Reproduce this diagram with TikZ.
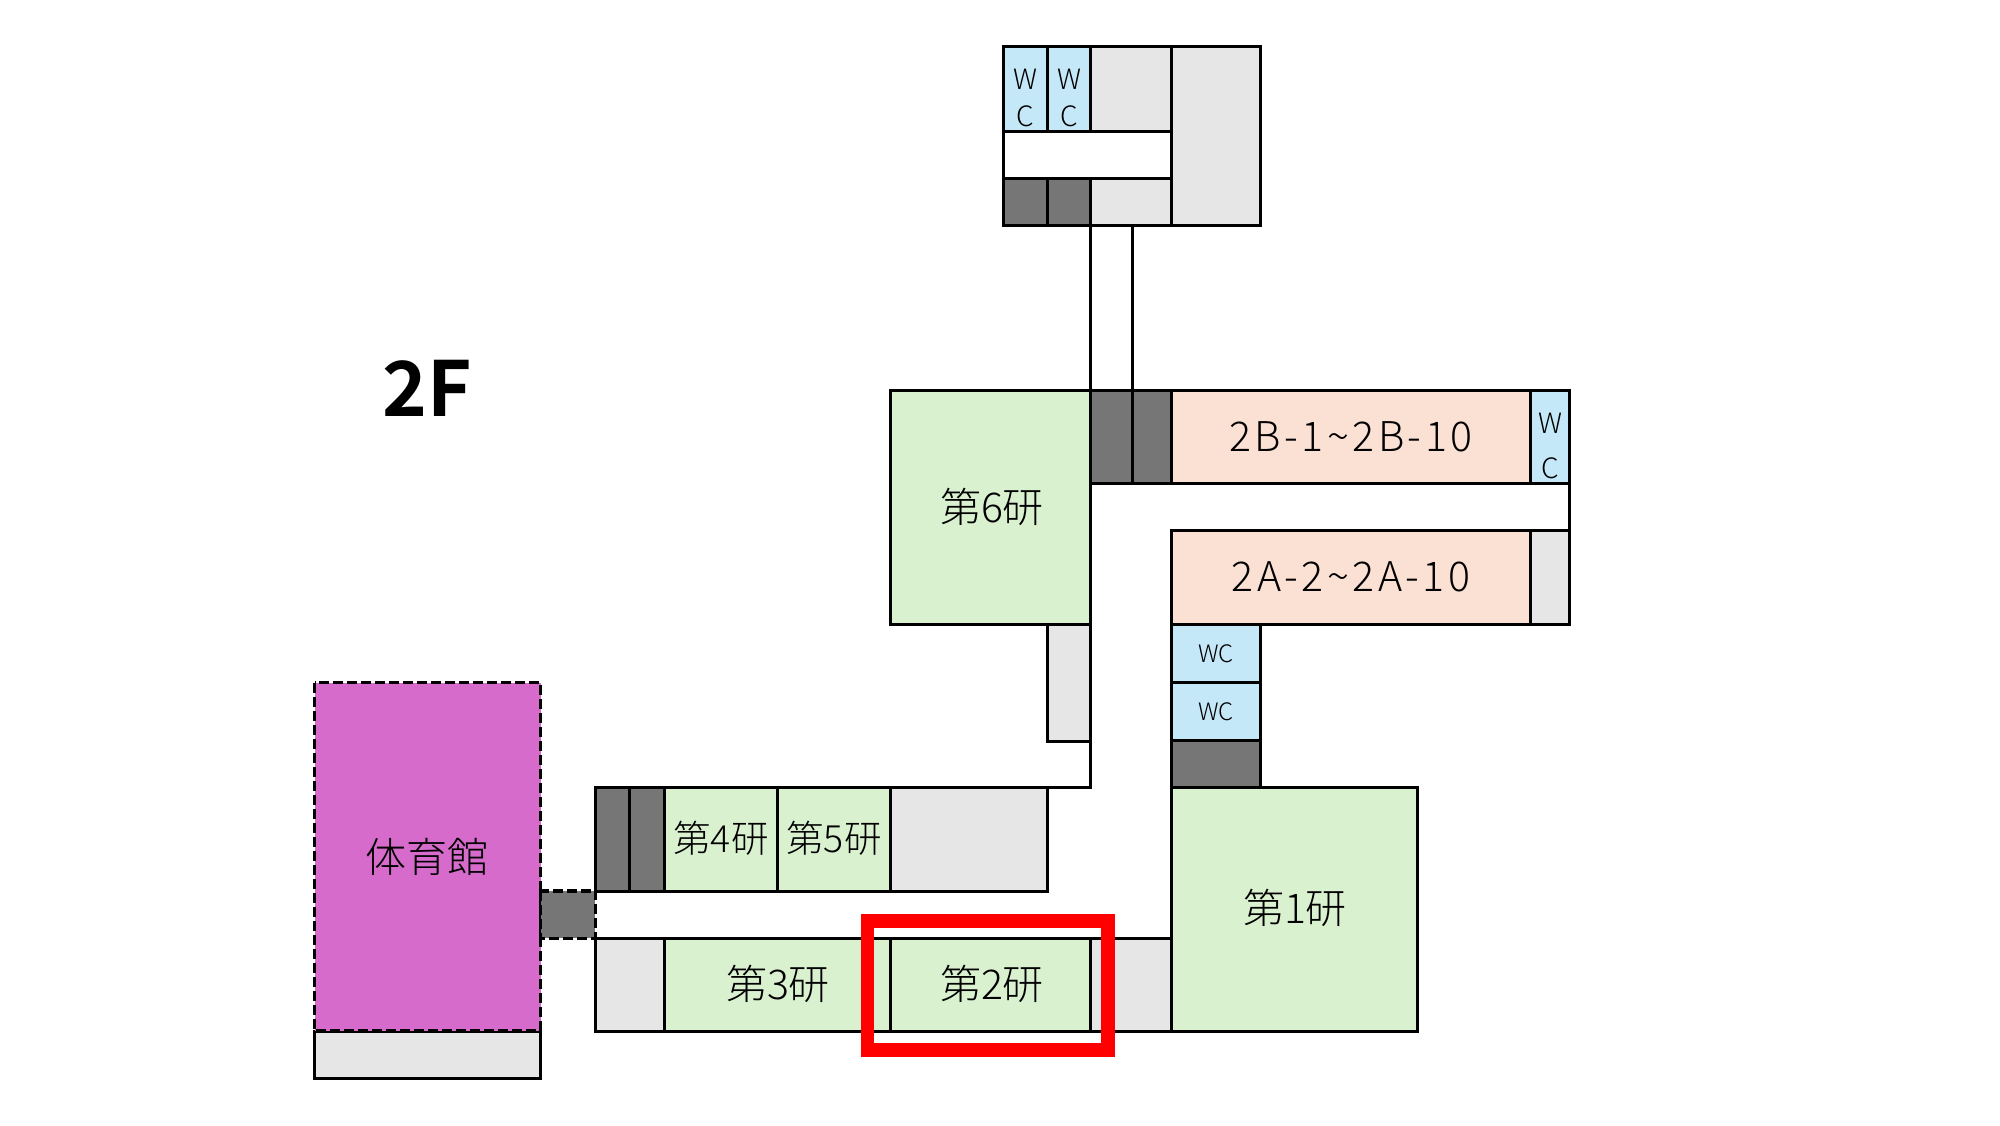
\documentclass[tikz,border=0pt]{standalone}
\usepackage{fontspec}
\setmainfont{Noto Sans CJK JP}[UprightFont=* Light,BoldFont=* Bold]
\definecolor{labgreen}{HTML}{DAF1D0}
\definecolor{peach}{HTML}{FBE0D4}
\definecolor{wcblue}{HTML}{C5E8F8}
\definecolor{lightgrey}{HTML}{E6E6E6}
\definecolor{stair}{HTML}{767676}
\definecolor{gym}{HTML}{D66BCB}
\tikzset{
  wall/.style={draw=black,line width=3pt,line join=miter},
  lab/.style={wall,fill=labgreen},
  cls/.style={wall,fill=peach},
  wc/.style={wall,fill=wcblue},
  store/.style={wall,fill=lightgrey},
  stairs/.style={wall,fill=stair},
  gymroom/.style={wall,line width=3.4pt,fill=gym,dash pattern=on 10pt off 4pt},
  big/.style={font=\fontsize{41}{41}\selectfont,inner sep=0pt,text=black},
  mid/.style={font=\fontsize{37.5}{37.5}\selectfont,inner sep=0pt,text=black},
  wide/.style={font=\fontsize{41}{41}\selectfont\addfontfeature{LetterSpace=8.5},inner sep=0pt,text=black},
  wctxt/.style={font=\fontsize{28}{28}\selectfont,inner sep=0pt,text=black},
  wcsmall/.style={font=\fontsize{24}{24}\selectfont,inner sep=0pt,text=black},
  floortext/.style={font=\fontsize{76}{76}\selectfont\bfseries,inner sep=0pt,text=black},
  redframe/.style={draw=red,line width=13.5pt,line join=miter}
}
\begin{document}
\begin{tikzpicture}[x=1pt,y=-1pt]
\useasboundingbox (0,0) rectangle (2000,1125);
\fill[white] (0,0) rectangle (2000,1125);
% top annex
\draw[wall] (1003.5,46.5) rectangle (1171,225.5);
\draw[wc] (1003.5,46.5) rectangle (1047.5,131);
\draw[wc] (1047.5,46.5) rectangle (1090.5,131);
\draw[store] (1090.5,46.5) rectangle (1171,131);
\draw[store] (1171,46.5) rectangle (1260.5,225.5);
\draw[stairs] (1003.5,178) rectangle (1047.5,225.5);
\draw[stairs] (1047.5,178) rectangle (1090.5,225.5);
\draw[store] (1090.5,178) rectangle (1171,225.5);
\node[wctxt] (wcAw) at (1025.5,79) {W};
\node[wctxt] (wcAc) at (1025.5,116) {C};
\node[wctxt] (wcBw) at (1069,79) {W};
\node[wctxt] (wcBc) at (1069,116) {C};
% bridge
\draw[wall] (1090.5,225.5) -- (1090.5,390.5);
\draw[wall] (1132,225.5) -- (1132,390.5);
% corridors
\draw[wall] (1090.5,483.5) -- (1569.5,483.5) -- (1569.5,530);
\draw[wall] (1090.5,483.5) -- (1090.5,787.7) -- (595.3,787.7);
\draw[wall] (1171,530) -- (1171,938.3) -- (595.3,938.3);
% second block
\draw[lab] (890.5,390.5) rectangle (1090.5,624);
\node[big] (lab6) at (992,507) {第6研};
\draw[stairs] (1090.5,390.5) rectangle (1132,483.5);
\draw[stairs] (1132,390.5) rectangle (1171,483.5);
\draw[cls] (1171,390.5) rectangle (1530,483.5);
\node[wide] (rmB) at (1351,437) {2B-1\char"7E 2B-10};
\draw[wc] (1530,390.5) rectangle (1569.5,483.5);
\node[wctxt] (wcCw) at (1550,423) {W};
\node[wctxt] (wcCc) at (1550,468) {C};
\draw[cls] (1171,530) rectangle (1530,624);
\node[wide] (rmA) at (1351,577) {2A-2\char"7E 2A-10};
\draw[store] (1530,530) rectangle (1569.5,624);
\draw[store] (1047.5,624) rectangle (1090.5,741);
% wc column
\draw[wc] (1171,624) rectangle (1260.5,682);
\node[wcsmall] (wcD) at (1216,653.5) {WC};
\draw[wc] (1171,682) rectangle (1260.5,740);
\node[wcsmall] (wcE) at (1216,711.5) {WC};
\draw[stairs] (1171,740) rectangle (1260.5,787.7);
% lab 1
\draw[lab] (1171,787.7) rectangle (1417,1031);
\node[big] (lab1) at (1295,908) {第1研};
% upper row
\draw[stairs] (595.3,787.7) rectangle (629.6,891);
\draw[stairs] (629.6,787.7) rectangle (664.3,891);
\draw[lab] (664.3,787.7) rectangle (777.8,891);
\node[mid] (lab4) at (721,838) {第4研};
\draw[lab] (777.8,787.7) rectangle (890.5,891);
\node[mid] (lab5) at (834,838) {第5研};
\draw[store] (890.5,787.7) rectangle (1047.5,891);
% lower row
\draw[store] (595.3,938.3) rectangle (664.3,1031);
\draw[lab] (664.3,938.3) rectangle (890.5,1031);
\node[big] (lab3) at (778,984) {第3研};
\draw[lab] (890.5,938.3) rectangle (1090.5,1031);
\node[big] (lab2) at (992,984) {第2研};
\draw[store] (1090.5,938.3) rectangle (1171,1031);
% gym
\draw[store] (314.5,1031) rectangle (540.5,1078.5);
\draw[gymroom] (314.5,682.7) rectangle (540.5,1031);
\node[big] (gymlabel) at (427,857) {体育館};
\draw[gymroom,fill=stair] (540.5,891) rectangle (595.3,938.3);
% floor label
\node[floortext] (floorlabel) at (427,388) {2F};
% highlight
\draw[redframe] (867.7,921) rectangle (1108,1050);
\end{tikzpicture}
\end{document}
